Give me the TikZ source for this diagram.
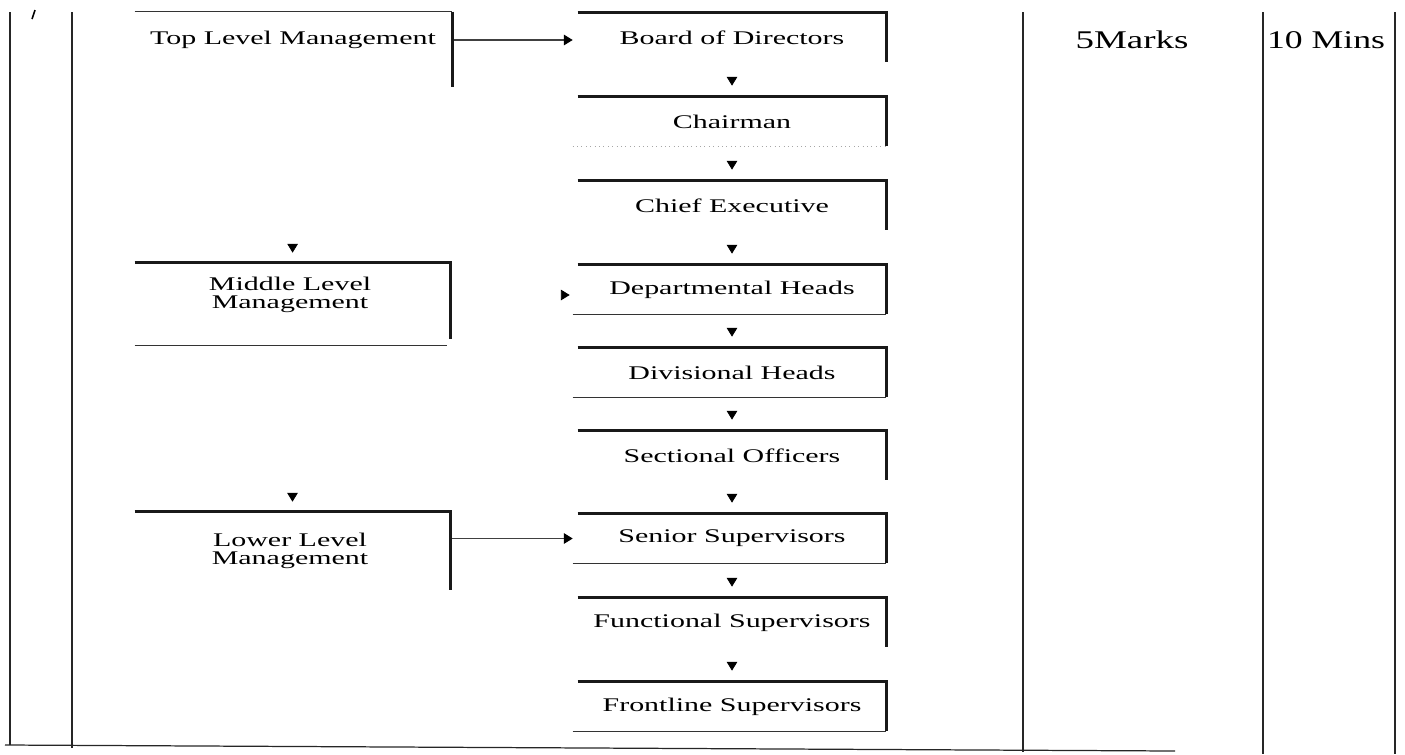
\documentclass[tikz,border=0pt]{standalone}
\usepackage{fontspec}
\usepackage{graphicx}
\setmainfont{Liberation Serif}
\usetikzlibrary{arrows.meta,calc}
\newcommand{\widetxt}[2][1.55]{\scalebox{#1}[1]{#2}}
\begin{document}
\begin{tikzpicture}[x=0.02cm,y=-0.02cm,
  mainbox/.style={rectangle, inner sep=0pt, minimum width=6.16cm, minimum height=0.98cm,
     font=\fontsize{11}{10}\selectfont},
  sidebox/.style={rectangle, inner sep=0pt, minimum width=6.3cm},
  sidetext/.style={inner sep=0pt, align=center, font=\fontsize{11}{10.4}\selectfont},
  colltext/.style={inner sep=0pt, font=\fontsize{14.5}{16}\selectfont},
  thickedge/.style={line width=1.7pt, black!90},
  thinedge/.style={line width=0.6pt, black!80},
  tablerule/.style={line width=0.7pt, black!85},
  tip/.style={-{Triangle[width=6pt,length=5pt,black]}},
  link/.style={tip, line width=0.6pt, black!75, shorten >=0.1cm},
  hidelink/.style={tip, line width=0.4pt, draw=white, shorten >=0.2cm},
]
\useasboundingbox (0,0) rectangle (1405,754);

% table rules
\draw[tablerule] (10,12) coordinate (r1t) -- (10,745) coordinate (r1b);
\draw[tablerule] (72,12) coordinate (r2t) -- (72,748) coordinate (r2b);
\draw[tablerule] (1023,12) coordinate (r3t) -- (1023,752) coordinate (r3b);
\draw[tablerule] (1263,12) coordinate (r4t) -- (1263,754) coordinate (r4b);
\draw[tablerule] (1395,12) coordinate (r5t) -- (1395,754) coordinate (r5b);
\draw[tablerule] (5,745) coordinate (hb1) -- (1175,751) coordinate (hb2);
\draw[line width=0.9pt] (35,10) coordinate (tk1) -- (32,19) coordinate (tk2);

% main column nodes
\node[mainbox] (b1) at (732,37.5) {\widetxt{Board of Directors}};
\node[mainbox] (b2) at (732,121.5) {\widetxt{Chairman}};
\node[mainbox] (b3) at (732,205.5) {\widetxt{Chief Executive}};
\node[mainbox] (b4) at (732,289.5) {\widetxt{Departmental Heads}};
\node[mainbox] (b5) at (732,372.5) {\widetxt{Divisional Heads}};
\node[mainbox] (b6) at (732,455.5) {\widetxt{Sectional Officers}};
\node[mainbox] (b7) at (732,538.5) {\widetxt{Senior Supervisors}};
\node[mainbox] (b8) at (732,622.5) {\widetxt{Functional Supervisors}};
\node[mainbox] (b9) at (732,706.5) {\widetxt{Frontline Supervisors}};

% left column nodes
\node[sidebox, minimum width=6.34cm, minimum height=1.5cm] (tlbox) at (293.5,49.5) {};
\node[sidetext] (tltext) at (293,40) {\widetxt{Top Level Management}};
\node[sidebox, minimum height=1.64cm] (mlbox) at (292.5,304) {};
\node[sidetext] (mltext) at (290,295) {\widetxt{Middle Level}\\\widetxt{Management}};
\node[sidebox, minimum height=1.56cm] (llbox) at (292.5,551) {};
\node[sidetext] (lltext) at (290,551) {\widetxt{Lower Level}\\\widetxt{Management}};

% connectors (drawn first, frames on top)
\foreach \i/\j in {1/2,2/3,3/4,4/5,5/6,6/7,7/8,8/9}
  \draw[hidelink, shorten >=0.22cm] (b\i.south) -- (b\j.north);
\draw[hidelink] (tlbox.south) -- (mlbox.north);
\draw[hidelink] (mlbox.south) -- (llbox.north);
\draw[hidelink, shorten >=0.16cm] (mlbox.east |- mltext) -- (b4.west |- mltext);
\draw[link] (tlbox.east |- tltext) -- (b1.west |- tltext);
\draw[link] (llbox.east |- b7) -- (b7.west);

% main column frames
\foreach \n in {b1,b2,b3,b4,b5,b6,b7,b8,b9}
  \draw[thickedge] (\n.north west) -- (\n.north east) -- (\n.south east);
\foreach \n in {b4,b5,b7,b9}
  \draw[thinedge] ([xshift=-0.1cm]\n.south west) -- (\n.south east);
\draw[line width=0.5pt, black!35, dotted] ([xshift=-0.1cm]b2.south west) -- (b2.south east);

% left column frames
\draw[line width=0.8pt, black!80] (tlbox.north west) -- (tlbox.north east);
\draw[thickedge] (tlbox.north east) -- (tlbox.south east);
\draw[thickedge] (mlbox.north west) -- (mlbox.north east) -- ([yshift=0.12cm]mlbox.south east);
\draw[thinedge] (mlbox.south west) -- ([xshift=-0.06cm]mlbox.south east);
\draw[thickedge] (llbox.north west) -- (llbox.north east) -- (llbox.south east);

% right columns
\node[colltext] (marks) at (1132,40) {\widetxt[1.45]{5Marks}};
\node[colltext] (mins) at (1326,40) {\widetxt[1.4]{10 Mins}};
\end{tikzpicture}
\end{document}
